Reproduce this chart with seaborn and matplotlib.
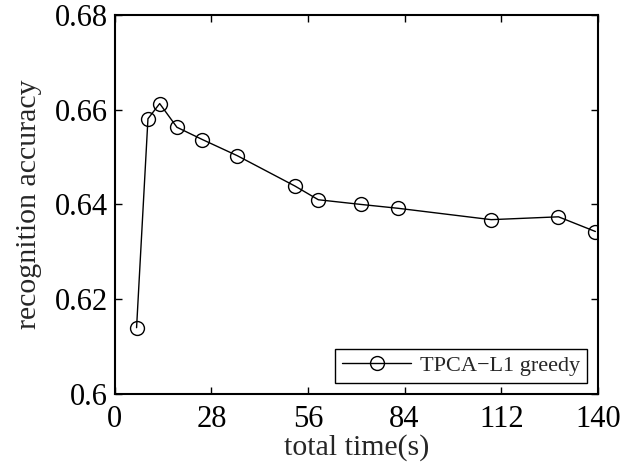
import numpy as np
import pandas as pd
import seaborn as sns
import matplotlib
matplotlib.use("Agg")
import matplotlib.pyplot as plt

time_s = [6.3, 9.6, 13.0, 18.0, 25.4, 35.5, 52.2, 59.0, 71.5, 82.1, 109.1, 128.6, 139.3]
accuracy = [0.6140, 0.6581, 0.6613, 0.6563, 0.6537, 0.6503, 0.6439, 0.6410, 0.6400, 0.6392, 0.6368, 0.6374, 0.6343]
series_name = "TPCA\u2212L1 greedy"
x_ticks = [0, 28, 56, 84, 112, 140]
y_ticks = [0.6, 0.62, 0.64, 0.66, 0.68]
y_tick_labels = ["0.6", "0.62", "0.64", "0.66", "0.68"]

sns.set_style("ticks")
plt.rcParams['font.family'] = ['Liberation Serif', 'DejaVu Serif']
plt.rcParams['mathtext.fontset'] = 'stix'

df = pd.DataFrame({"time": time_s, "acc": accuracy, "method": series_name})

fig = plt.figure(figsize=(6.38, 4.70), dpi=100)
ax = fig.add_axes([0.180, 0.1617, 0.757, 0.8064])

sns.lineplot(data=df, x="time", y="acc", ax=ax, color="black", linewidth=1.0,
             marker="o", markersize=10, markerfacecolor="none",
             markeredgecolor="black", markeredgewidth=1.0, label=series_name)

ax.set_xlim(0, 140)
ax.set_ylim(0.6, 0.68)
ax.set_xticks(x_ticks)
ax.set_xticklabels([str(t) for t in x_ticks])
ax.set_yticks(y_ticks)
ax.set_yticklabels(y_tick_labels)
ax.tick_params(direction="in", top=True, right=True, length=5, width=1,
               labelsize=22, colors="black")
ax.tick_params(axis="x", pad=8)
ax.tick_params(axis="y", pad=5)
for s in ax.spines.values():
    s.set_visible(True)
    s.set_linewidth(1.5)
    s.set_color("black")

ax.set_xlabel("total time(s)", fontsize=21.5, labelpad=0)
ax.set_ylabel("recognition accuracy", fontsize=21.5, labelpad=9)

leg = ax.legend(loc="lower right", fontsize=16, frameon=True, fancybox=False,
                edgecolor="black", framealpha=1, handlelength=3.1,
                borderaxespad=0.5, borderpad=0.3, handletextpad=0.4)
leg.get_frame().set_linewidth(1.0)

fig.savefig("out.png", dpi=100)
